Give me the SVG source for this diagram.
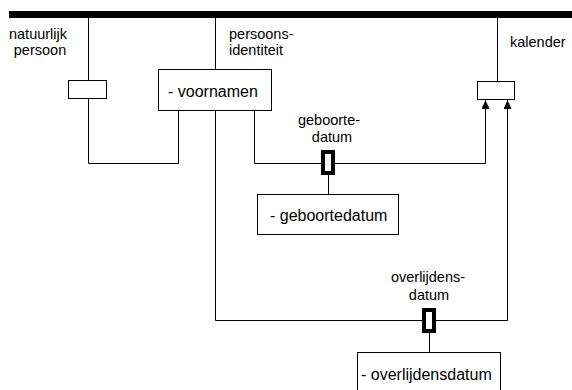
<svg xmlns="http://www.w3.org/2000/svg" width="572" height="390" viewBox="0 0 572 390">
<style>
.ln{fill:none;stroke:#000;stroke-width:1}
.box{fill:#fff;stroke:#000;stroke-width:1}
.thick{fill:#fff;stroke:#000;stroke-width:4}
.lbl{font-family:"Liberation Sans",Arial,sans-serif;font-size:14.5px;fill:#000}
.txt{font-family:"Liberation Sans",Arial,sans-serif;font-size:16px;fill:#000}
</style>
<defs>
<marker id="arr" viewBox="0 0 9 8" refX="9" refY="4" markerWidth="9" markerHeight="8" markerUnits="userSpaceOnUse" orient="auto">
<path d="M0,0 L9,4 L0,8 Z" fill="#000"/>
</marker>
</defs>
<rect x="9" y="11" width="563" height="7" fill="#000"/>
<g id="connectors">
<path class="ln" d="M88.5,18 V80 M88.5,99 V163.5 H178.5 V111"/>
<path class="ln" d="M215.5,18 V69 M215.5,111 V320.5 H507.5 V100" marker-end="url(#arr)"/>
<path class="ln" d="M254.5,111 V163.5 H485.5 V100" marker-end="url(#arr)"/>
<path class="ln" d="M497.5,18 V81"/>
<path class="ln" d="M328.5,173 V194"/>
<path class="ln" d="M429.5,331 V352"/>
</g>
<g id="natuurlijk-persoon">
<rect class="box" x="68.5" y="80.5" width="38" height="18"/>
<text class="lbl" x="38" y="39" text-anchor="middle">natuurlijk</text>
<text class="lbl" x="40" y="55" text-anchor="middle">persoon</text>
</g>
<g id="persoonsidentiteit">
<rect class="box" x="158.5" y="69.5" width="113" height="41"/>
<text class="txt" x="168" y="97">- voornamen</text>
<text class="lbl" x="229" y="39">persoons-</text>
<text class="lbl" x="229" y="55">identiteit</text>
</g>
<g id="kalender">
<rect class="box" x="477.5" y="81.5" width="37" height="18"/>
<text class="lbl" x="510" y="47">kalender</text>
</g>
<g id="geboortedatum-rel">
<rect class="thick" x="323" y="152" width="10" height="21"/>
<text class="lbl" x="329" y="125" text-anchor="middle">geboorte-</text>
<text class="lbl" x="332" y="142" text-anchor="middle">datum</text>
</g>
<g id="geboortedatum">
<rect class="box" x="257.5" y="194.5" width="141" height="40"/>
<text class="txt" x="270" y="221">- geboortedatum</text>
</g>
<g id="overlijdensdatum-rel">
<rect class="thick" x="424" y="310" width="10" height="21"/>
<text class="lbl" x="428" y="282" text-anchor="middle">overlijdens-</text>
<text class="lbl" x="429" y="300" text-anchor="middle">datum</text>
</g>
<g id="overlijdensdatum">
<rect class="box" x="357.5" y="352.5" width="143" height="40"/>
<text class="txt" x="361" y="380">- overlijdensdatum</text>
</g>
</svg>
